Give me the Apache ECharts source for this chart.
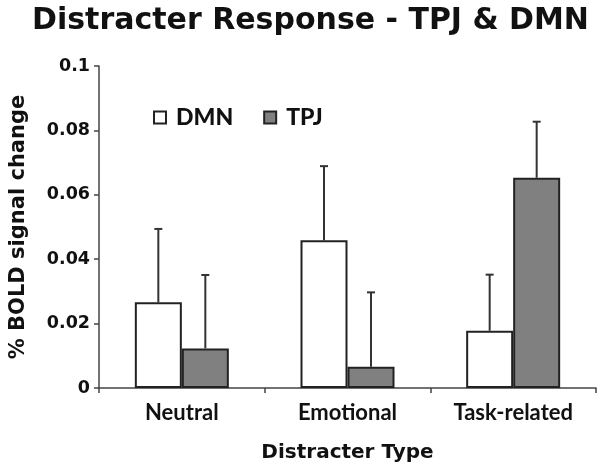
<!DOCTYPE html>
<html><head><meta charset="utf-8">
<script src="https://cdn.jsdelivr.net/npm/echarts@6/dist/echarts.min.js"></script>
<style>html,body{margin:0;padding:0;background:#fff}#c{width:601px;height:469px}</style>
</head><body><div id="c"></div>
<script>
var categories = ['Neutral', 'Emotional', 'Task-related'];
var dmnValues = [0.0266, 0.0459, 0.0178];
var dmnErr = [0.0228, 0.0230, 0.0174];
var tpjValues = [0.0123, 0.0066, 0.0653];
var tpjErr = [0.0228, 0.0231, 0.0174];
var yTicks = [0, 0.02, 0.04, 0.06, 0.08, 0.1];

var chart = echarts.init(document.getElementById('c'));
var BW = 47;
var AX = 'DejaVu Sans';
function errSeries(name, vals, errs, offset) {
  return {
    type: 'custom', name: name + ' err', silent: true, z: 1,
    data: vals.map(function (v, i) { return [i, v, v + errs[i]]; }),
    renderItem: function (params, api) {
      var b = api.coord([api.value(0), api.value(1)]);
      var t = api.coord([api.value(0), api.value(2)]);
      var x = b[0] + offset;
      var st = { stroke: '#333', lineWidth: 2 };
      return { type: 'group', children: [
        { type: 'line', shape: { x1: x, y1: b[1], x2: x, y2: t[1] }, style: st },
        { type: 'line', shape: { x1: x - 4, y1: t[1], x2: x + 4, y2: t[1] }, style: st }
      ]};
    }
  };
}
chart.setOption({
  animation: false,
  title: {
    text: 'Distracter Response - TPJ & DMN', left: 32, top: 6,
    textStyle: { fontFamily: AX, fontWeight: 'bold', fontSize: 30, color: '#111' },
    padding: 0
  },
  legend: {
    data: ['DMN', 'TPJ'], left: 148, top: 101, icon: 'rect', itemWidth: 12, itemHeight: 12, itemGap: 30,
    textStyle: { fontFamily: 'Lato', fontWeight: 900, fontSize: 23, color: '#111', padding: [0, 0, 0, 5] }
  },
  grid: { left: 97, right: 5, top: 66, bottom: 81 },
  xAxis: {
    type: 'category', data: categories,
    name: 'Distracter Type', nameLocation: 'middle', nameGap: 55,
    nameTextStyle: { fontFamily: AX, fontWeight: 'bold', fontSize: 20, color: '#111' },
    axisLine: { lineStyle: { color: '#444', width: 1.5 } },
    axisTick: { show: true, length: 5, lineStyle: { color: '#444', width: 1.5 } },
    axisLabel: { fontFamily: 'Lato', fontWeight: 'bold', fontSize: 22, color: '#111', margin: 14 }
  },
  yAxis: {
    type: 'value', min: 0, max: 0.1, interval: 0.02,
    name: '% BOLD signal change', nameLocation: 'middle', nameGap: 70, nameRotate: 90,
    nameTextStyle: { fontFamily: AX, fontWeight: 'bold', fontSize: 21, color: '#111' },
    axisLine: { show: true, lineStyle: { color: '#444', width: 1.5 } },
    axisTick: { show: true, length: 5, lineStyle: { color: '#444', width: 1.5 } },
    splitLine: { show: false },
    axisLabel: {
      fontFamily: AX, fontWeight: 'bold', fontSize: 17.5, color: '#111', margin: 9,
      formatter: function (v) { var s = String(+v.toFixed(2)); return yTicks.indexOf(+s) >= 0 ? s : ''; }
    }
  },
  series: [
    { name: 'DMN', type: 'bar', data: dmnValues, barWidth: BW, barGap: '0%', z: 2,
      itemStyle: { color: '#ffffff', borderColor: '#222', borderWidth: 2 } },
    { name: 'TPJ', type: 'bar', data: tpjValues, barWidth: BW, barGap: '0%', z: 2,
      itemStyle: { color: '#808080', borderColor: '#222', borderWidth: 2 } },
    errSeries('DMN', dmnValues, dmnErr, -BW / 2),
    errSeries('TPJ', tpjValues, tpjErr, BW / 2)
  ]
});
</script></body></html>
